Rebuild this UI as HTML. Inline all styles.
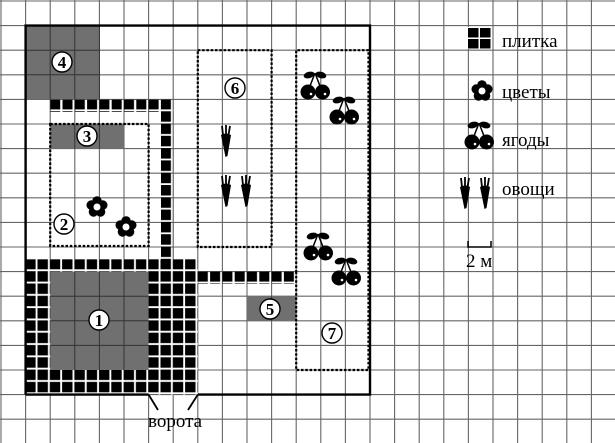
<!DOCTYPE html>
<html><head><meta charset="utf-8"><style>
html,body{margin:0;padding:0;background:#fff}
svg{display:block}
text{font-family:"Liberation Serif",serif;fill:#000}
</style></head><body>
<svg width="615" height="443" viewBox="0 0 615 443" xmlns="http://www.w3.org/2000/svg">
<defs>
<pattern id="tile" x="0" y="0" width="12.3" height="12.3" patternUnits="userSpaceOnUse">
<rect x="0.6" y="0.6" width="10.4" height="10.4" fill="#000"/>
</pattern>
<pattern id="tile2" x="0" y="0" width="12.3" height="12.3" patternUnits="userSpaceOnUse">
<rect x="1" y="0.5" width="10" height="10.5" fill="#000"/>
</pattern>
<g id="cher">
<path d="M-7,0 Q-3,-10 0,-18 M7,0 Q3,-10 0,-18" stroke="#000" stroke-width="1.5" fill="none"/>
<ellipse cx="-6" cy="-16" rx="5.5" ry="3.2" fill="#000" transform="rotate(-15 -6 -16)"/>
<ellipse cx="6" cy="-16" rx="5.5" ry="3.2" fill="#000" transform="rotate(15 6 -16)"/>
<circle cx="-7" cy="1" r="7.5" fill="#000"/><circle cx="7.5" cy="1" r="7.5" fill="#000"/>
<circle cx="-4" cy="3" r="1.3" fill="#fff"/><circle cx="10" cy="3" r="1.3" fill="#fff"/>
</g>
<g id="carrot">
<path d="M-5,-8 Q0,-11 5,-8 L1.5,13 L-0.5,14 Z" fill="#000"/>
<path d="M-3,-8 L-4,-17 M0,-8 L0,-18 M2.5,-8 L4,-17" stroke="#000" stroke-width="1.8"/>
</g>
<g id="flower">
<circle cx="0" cy="-6" r="4.8" fill="#000"/><circle cx="5.7" cy="-1.9" r="4.8" fill="#000"/>
<circle cx="3.5" cy="4.9" r="4.8" fill="#000"/><circle cx="-3.5" cy="4.9" r="4.8" fill="#000"/>
<circle cx="-5.7" cy="-1.9" r="4.8" fill="#000"/><circle cx="0" cy="0" r="3.5" fill="#fff"/>
</g>
</defs>
<!-- grid -->
<g stroke="#666" stroke-width="1.1">
<path d="M1,0V443M25.6,0V443M50.2,0V443M74.8,0V443M99.4,0V443M124,0V443M148.6,0V443M173.2,0V443M197.8,0V443M222.4,0V443M247,0V443M271.6,0V443M296.2,0V443M320.8,0V443M345.4,0V443M370,0V443M394.6,0V443M419.2,0V443M443.8,0V443M468.4,0V443M493,0V443M517.6,0V443M542.2,0V443M566.8,0V443M591.4,0V443"/>
<path d="M0,1H615M0,25.6H615M0,50.2H615M0,74.8H615M0,99.4H615M0,124H615M0,148.6H615M0,173.2H615M0,197.8H615M0,222.4H615M0,247H615M0,271.6H615M0,296.2H615M0,320.8H615M0,345.4H615M0,370H615M0,394.6H615M0,419.2H615"/>
</g>
<!-- gray areas -->
<rect x="25.6" y="25.6" width="73.8" height="73.8" fill="#707070"/>
<rect x="50.2" y="124" width="73.8" height="24.6" fill="#707070"/>
<rect x="247" y="296.2" width="49.2" height="24.6" fill="#707070"/>
<!-- tile block -->
<rect x="25" y="259.3" width="172.8" height="135.3" fill="#fff"/>
<rect x="25" y="259.3" width="172.8" height="135.3" fill="url(#tile)"/>
<rect x="50.2" y="271.6" width="98.4" height="98.4" fill="#707070"/>
<g stroke="#333" stroke-width="1" fill="none">
<path d="M74.8,271.6V370M99.4,271.6V370M124,271.6V370M50.2,296.2H148.6M50.2,320.8H148.6M50.2,345.4H148.6M25.6,25.6H99.4V99.4M25.6,50.2H99.4M25.6,74.8H99.4M50.2,25.6V99.4M74.8,25.6V99.4M74.8,124V148.6M99.4,124V148.6M271.6,296.2V320.8"/>
</g>
<!-- paths -->
<rect x="50.2" y="99.6" width="123" height="12.3" fill="url(#tile2)"/>
<rect x="160.9" y="111.9" width="12.3" height="147.6" fill="url(#tile2)"/>
<rect x="197.8" y="271.6" width="98.4" height="12.3" fill="url(#tile2)"/>
<!-- outer border -->
<path d="M25.6,394.6V25.6H370V394.6H197.8M148.6,394.6H25.6" stroke="#000" stroke-width="2.4" fill="none"/>
<path d="M148.6,394.6L158,410M197.8,394.6L188,410" stroke="#000" stroke-width="1.8"/>
<!-- dashed -->
<g fill="none" stroke="#000" stroke-width="2.2" stroke-dasharray="2.5,1.8">
<rect x="50.2" y="124" width="98.4" height="122"/>
<rect x="197.8" y="50.2" width="73.8" height="196.8"/>
<path d="M296.2,271.6V370H368.5V50.2H296.2V271.6"/>
</g>
<!-- circles -->
<g fill="#fff" stroke="#000" stroke-width="1.4">
<circle cx="62" cy="62" r="10"/><circle cx="87" cy="136" r="10"/><circle cx="64" cy="224" r="10"/>
<circle cx="99" cy="320" r="10"/><circle cx="235" cy="88" r="10"/><circle cx="332" cy="333" r="10"/><circle cx="270" cy="309" r="10"/>
</g>
<g font-size="17" font-weight="bold" text-anchor="middle">
<text x="62" y="68">4</text><text x="87" y="142">3</text><text x="64" y="230">2</text>
<text x="99" y="326">1</text><text x="235" y="94">6</text><text x="332" y="339">7</text><text x="270" y="315">5</text>
</g>
<use href="#flower" x="97" y="207"/><use href="#flower" x="126" y="227"/>
<use href="#carrot" x="226" y="143"/><use href="#carrot" x="226" y="193"/><use href="#carrot" x="246" y="193"/>
<use href="#cher" x="315" y="91"/><use href="#cher" x="344" y="116"/>
<use href="#cher" x="318" y="252"/><use href="#cher" x="346" y="277"/>
<!-- legend -->
<rect x="467" y="27" width="24" height="22" fill="#fff"/>
<rect x="468" y="28" width="10.5" height="9.5" fill="#000"/><rect x="480" y="28" width="10.5" height="9.5" fill="#000"/>
<rect x="468" y="39" width="10.5" height="9.5" fill="#000"/><rect x="480" y="39" width="10.5" height="9.5" fill="#000"/>
<use href="#flower" x="482" y="91"/>
<use href="#cher" x="479" y="141"/>
<use href="#carrot" x="465" y="195"/><use href="#carrot" x="485" y="195"/>
<g font-size="19">
<text x="502" y="47">плитка</text><text x="502" y="98">цветы</text>
<text x="502" y="146">ягоды</text><text x="502" y="195">овощи</text>
<text x="466" y="267">2 м</text>
<text x="148" y="427">ворота</text>
</g>
<path d="M468,241V247H491V241" stroke="#000" stroke-width="1.5" fill="none"/>
</svg>
</body></html>
